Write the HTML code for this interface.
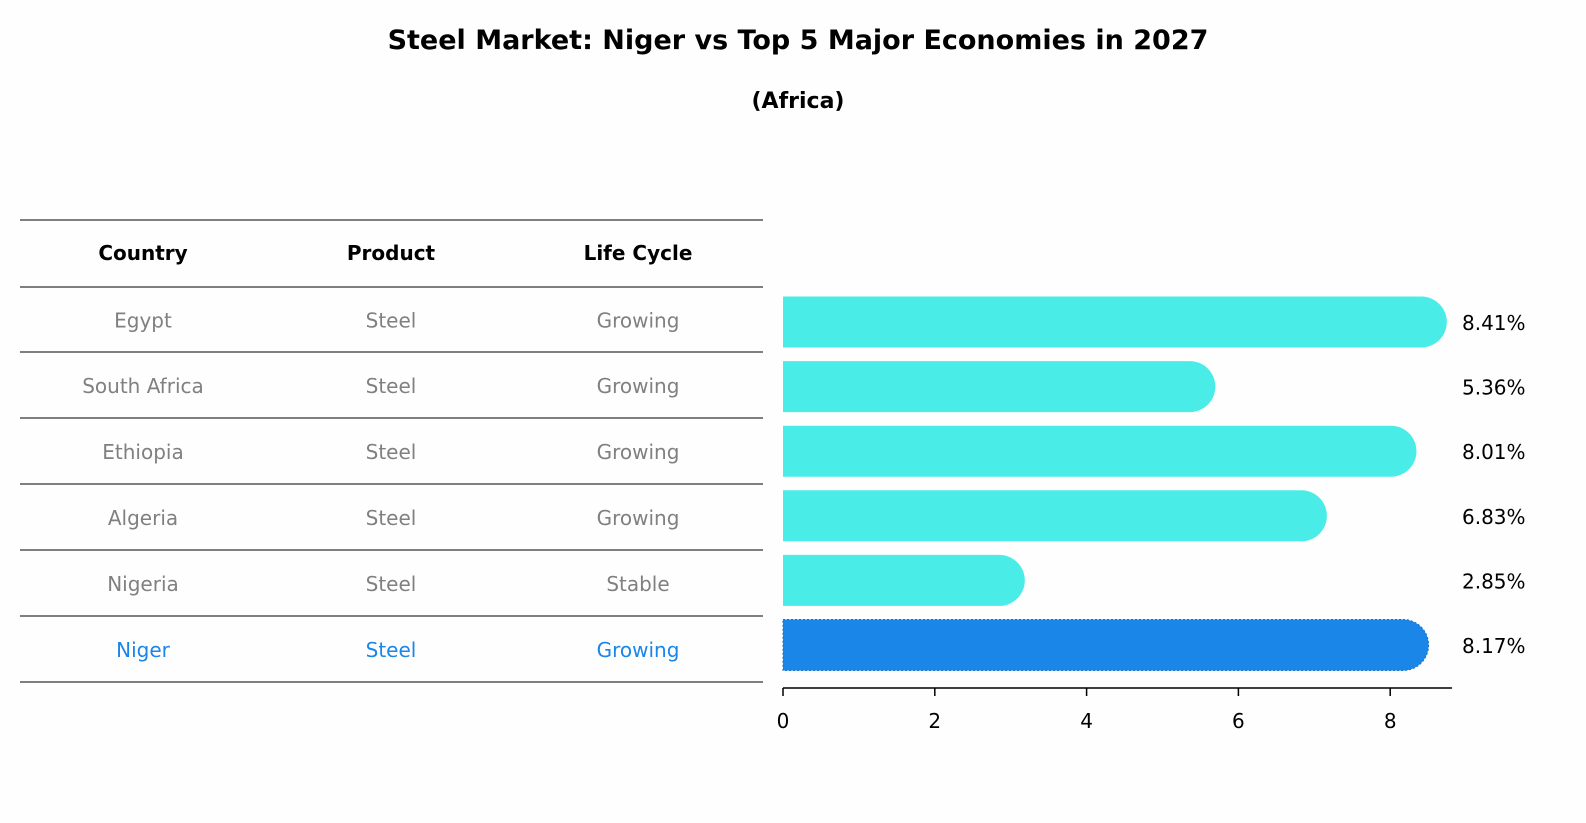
<!DOCTYPE html>
<html><head><meta charset="utf-8"><style>
html,body{margin:0;background:#fefefe;width:100%;height:100%;overflow:hidden;font-family:"Liberation Sans","DejaVu Sans",sans-serif}
svg{display:block;width:100vw;height:100vh}
</style></head><body>
<svg viewBox="0 0 1586 823" preserveAspectRatio="none" font-family="DejaVu Sans, Liberation Sans, sans-serif">
<text x="798" y="49" text-anchor="middle" font-size="27" font-weight="bold">Steel Market: Niger vs Top 5 Major Economies in 2027</text>
<text x="798" y="108" text-anchor="middle" font-size="22" font-weight="bold">(Africa)</text>
<g id="table"></g>
<g id="bars"></g>
</svg>
<script>
const countries=["Egypt","South Africa","Ethiopia","Algeria","Nigeria","Niger"];
const products=["Steel","Steel","Steel","Steel","Steel","Steel"];
const lifecycles=["Growing","Growing","Growing","Growing","Stable","Growing"];
const values=[8.41,5.36,8.01,6.83,2.85,8.17];
const ticks=[0,2,4,6,8];
const NS="http://www.w3.org/2000/svg";
function mk(t,a,p){const e=document.createElementNS(NS,t);for(const k in a)e.setAttribute(k,a[k]);p.appendChild(e);return e;}
const tbl=document.getElementById('table'),bars=document.getElementById('bars');
const lineYs=[220,287,352,418,484,550,616,682];
lineYs.forEach((y,i)=>{const l=mk('line',{x1:20,x2:763,y1:y,y2:y,stroke:'#000','stroke-width':1},tbl);

});
const colX=[143,391,638];
["Country","Product","Life Cycle"].forEach((h,i)=>{const t=mk('text',{x:colX[i],y:260,'text-anchor':'middle','font-size':20,'font-weight':'bold'},tbl);t.textContent=h;

});
countries.forEach((c,r)=>{const y=(lineYs[r+1]+lineYs[r+2])/2+8;const col=r===countries.length-1?'#1a86e8':'#808080';
[c,products[r],lifecycles[r]].forEach((v,i)=>{const t=mk('text',{x:colX[i],y:y,'text-anchor':'middle','font-size':20,fill:col},tbl);t.textContent=v;

});});
const x0=783,ppu=75.9;const xs=v=>x0+v*ppu;
const yc=i=>322+i*64.6;const bh=51;
values.forEach((v,i)=>{const niger=i===values.length-1;const r=bh/2;
const p=mk('path',{d:`M${xs(0)},${yc(i)-r} H${xs(v)} A${r},${r} 0 0 1 ${xs(v)},${yc(i)+r} H${xs(0)} Z`,fill:niger?'#1a86e8':'#4aece8',stroke:niger?'#1370c8':'none','stroke-dasharray':niger?'2,2':'none'},bars);


const t=mk('text',{x:1462,y:yc(i)+8,'font-size':20},bars);t.textContent=v.toFixed(2)+'%';

});
const ax=mk('line',{x1:x0,x2:1452,y1:688,y2:688,stroke:'#000','stroke-width':1.5},bars);


ticks.forEach(tv=>{const l=mk('line',{x1:xs(tv),x2:xs(tv),y1:688,y2:696,stroke:'#000','stroke-width':1.5},bars);


const t=mk('text',{x:xs(tv),y:728,'text-anchor':'middle','font-size':20},bars);t.textContent=tv;

});
</script>
</body></html>
